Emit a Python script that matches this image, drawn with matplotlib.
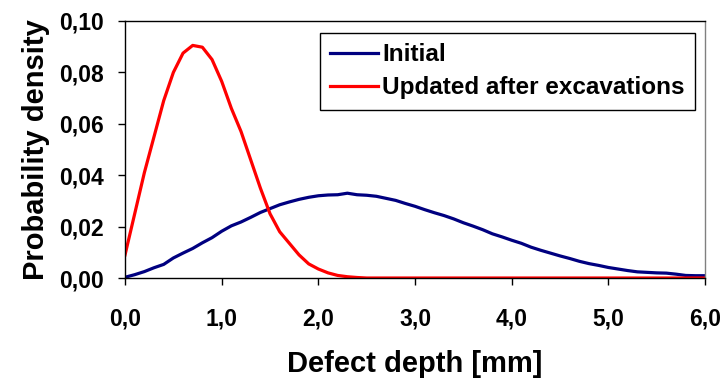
import matplotlib
matplotlib.use("Agg")
import matplotlib.pyplot as plt
import numpy as np

depth = [round(0.1 * i, 1) for i in range(61)]

initial = [0.0003, 0.0013, 0.0025, 0.0040, 0.0053, 0.0078, 0.0097, 0.0115, 0.0137, 0.0157,
           0.0182, 0.0203, 0.0218, 0.0236, 0.0255, 0.0270, 0.0285, 0.0296, 0.0306, 0.0314,
           0.0320, 0.0323, 0.0324, 0.0330, 0.0324, 0.0322, 0.0318, 0.0310, 0.0302, 0.0290,
           0.0279, 0.0266, 0.0254, 0.0243, 0.0230, 0.0215, 0.0202, 0.0188, 0.0172, 0.0160,
           0.0147, 0.0135, 0.0120, 0.0108, 0.0097, 0.0086, 0.0076, 0.0065, 0.0056, 0.0049,
           0.0041, 0.0035, 0.0029, 0.0024, 0.0022, 0.0020, 0.0019, 0.0015, 0.0010, 0.0009,
           0.0009]

updated = [0.009, 0.025, 0.041, 0.055, 0.069, 0.080, 0.0875, 0.0905, 0.0898, 0.085,
           0.0765, 0.066, 0.057, 0.046, 0.035, 0.025, 0.018, 0.0135, 0.009, 0.0055,
           0.0035, 0.002, 0.001, 0.0005, 0.0002] + [0.0] * 36

xticks = [0, 1, 2, 3, 4, 5, 6]
xticklabels = ["0,0", "1,0", "2,0", "3,0", "4,0", "5,0", "6,0"]
yticks = [0.0, 0.02, 0.04, 0.06, 0.08, 0.10]
yticklabels = ["0,00", "0,02", "0,04", "0,06", "0,08", "0,10"]

plt.rcParams['font.family'] = ['Liberation Sans', 'DejaVu Sans']
plt.rcParams['font.weight'] = 'bold'

fig = plt.figure(figsize=(7.24, 3.81), dpi=100)
ax = fig.add_axes([0.1727, 0.2703, 0.8011, 0.6746])

ax.plot(depth, initial, color='#000080', lw=2.3, label='Initial')
ax.plot(depth, updated, color='#ff0000', lw=2.3, label='Updated after excavations')

ax.set_xlim(0, 6)
ax.set_ylim(0, 0.10)
ax.set_xticks(xticks)
ax.set_xticklabels(xticklabels, fontsize=16.5, fontweight='bold')
ax.set_yticks(yticks)
ax.set_yticklabels(yticklabels, fontsize=16.5, fontweight='bold')
ax.tick_params(axis='both', direction='out', length=5, width=1)
ax.tick_params(axis='y', pad=10)
ax.tick_params(axis='x', pad=16)
ax.set_xlabel('Defect depth [mm]', fontsize=21, fontweight='bold', labelpad=14)
ax.set_ylabel('Probability density', fontsize=21, fontweight='bold', labelpad=7)
for s in ax.spines.values():
    s.set_linewidth(1)
ax.spines['right'].set_color('#808080')

leg = ax.legend(loc='upper right', bbox_to_anchor=(0.983, 0.953),
                frameon=True, fancybox=False, edgecolor='black', framealpha=1,
                handlelength=1.95, handletextpad=0.2, borderpad=0.42, labelspacing=0.42,
                borderaxespad=0,
                prop={'weight': 'bold', 'size': 17.5})
leg.get_frame().set_linewidth(1)

fig.savefig('out.png', dpi=100)
